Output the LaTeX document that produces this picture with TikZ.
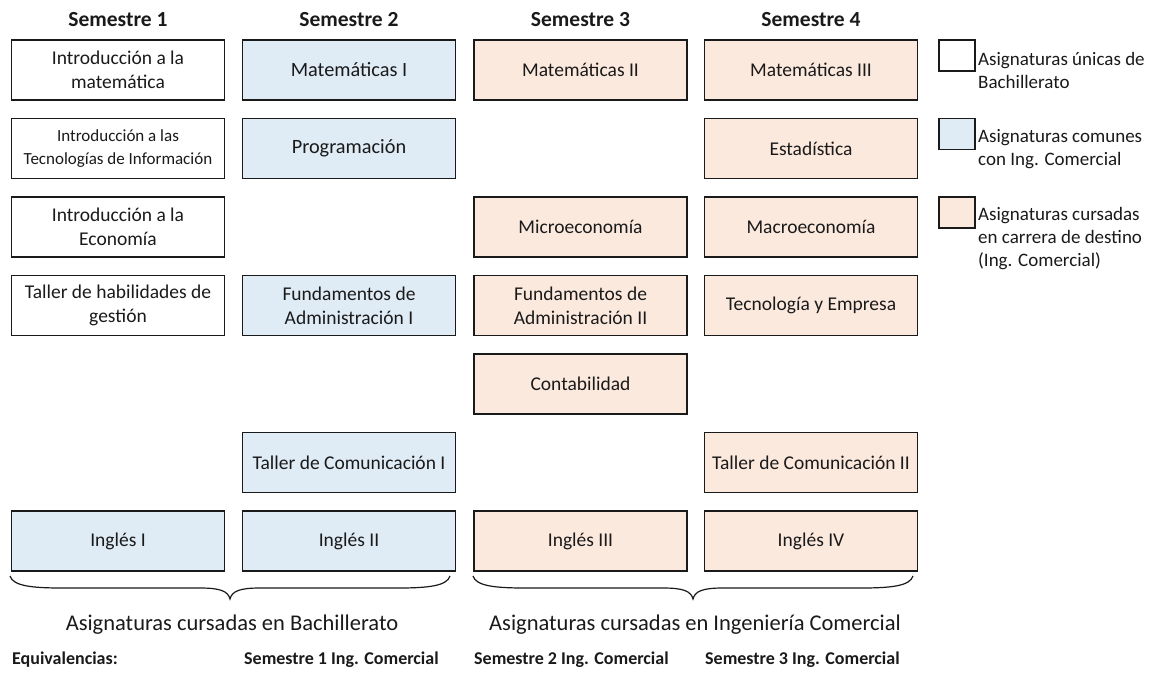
\documentclass[tikz,border=0pt]{standalone}
\usepackage{fontspec}
\setmainfont{Carlito}
\definecolor{blueF}{HTML}{DFEBF5}
\definecolor{peachF}{HTML}{FCE9DE}
\definecolor{ink}{HTML}{1A1A1A}
\tikzset{
  course/.style={draw=ink, line width=1.6pt, minimum width=213pt, minimum height=60pt,
    inner sep=0pt, align=center, text=ink, font=\fontsize{19.5}{24}\selectfont},
  bachbox/.style={course, fill=white},
  combox/.style={course, fill=blueF},
  destbox/.style={course, fill=peachF},
  bigtext/.style={font=\fontsize{20.3}{25}\selectfont},
  head/.style={font=\bfseries\fontsize{21.5}{26}\selectfont, text=ink},
  legbox/.style={draw=ink, line width=1.2pt, minimum width=36pt, minimum height=31pt, inner sep=0pt},
  legtext/.style={anchor=north west, inner sep=0pt, align=left, text=ink,
    font=\fontsize{19}{23}\selectfont},
  bracepath/.style={draw=ink, line width=1.2pt},
  biglabel/.style={anchor=base, inner sep=0pt, text=ink, font=\fontsize{22.5}{27}\selectfont},
  eqlabel/.style={anchor=base west, inner sep=0pt, text=ink, font=\bfseries\fontsize{18}{22}\selectfont}
}
\begin{document}
\begin{tikzpicture}[x=1pt,y=-1pt]
\useasboundingbox (0,0) rectangle (1150,672);
\fill[white] (0,0) rectangle (1150,672);

% headers
\node[head] (h1) at (118,20) {Semestre 1};
\node[head] (h2) at (349,20) {Semestre 2};
\node[head] (h3) at (580.5,20) {Semestre 3};
\node[head] (h4) at (811,20) {Semestre 4};

% row 1
\node[bachbox] (a1) at (118,70) {Introducción a la\\matemática};
\node[combox, bigtext]  (b1) at (349,70) {Matemáticas I};
\node[destbox] (c1) at (580.5,70) {Matemáticas II};
\node[destbox] (d1) at (811,70) {Matemáticas III};
% row 2
\node[bachbox, font=\fontsize{17}{23.5}\selectfont] (a2) at (118,148.5) {Introducción a las\\Tecnologías de Información};
\node[combox, bigtext]  (b2) at (349,148.5) {Programación};
\node[destbox] (d2) at (811,148.5) {Estadística};
% row 3
\node[bachbox] (a3) at (118,227) {Introducción a la\\Economía};
\node[destbox] (c3) at (580.5,227) {Microeconomía};
\node[destbox] (d3) at (811,227) {Macroeconomía};
% row 4
\node[bachbox] (a4) at (118,305.5) {Taller de habilidades de\\gestión};
\node[combox]  (b4) at (349,305.5) {Fundamentos de\\Administración I};
\node[destbox] (c4) at (580.5,305.5) {Fundamentos de\\Administración II};
\node[destbox] (d4) at (811,305.5) {Tecnología y Empresa};
% row 5
\node[destbox] (c5) at (580.5,384) {Contabilidad};
% row 6
\node[combox]  (b6) at (349,462.5) {Taller de Comunicación I};
\node[destbox] (d6) at (811,462.5) {Taller de Comunicación II};
% row 7
\node[combox]  (a7) at (118,541) {Inglés I};
\node[combox]  (b7) at (349,541) {Inglés II};
\node[destbox] (c7) at (580.5,541) {Inglés III};
\node[destbox] (d7) at (811,541) {Inglés IV};

% legend
\node[legbox, fill=white]  (l1) at (957,55.5) {};
\node[legbox, fill=blueF]  (l2) at (957,134) {};
\node[legbox, fill=peachF] (l3) at (957,212.5) {};
\node[legtext] (lt1) at (978,49) {\strut Asignaturas únicas de\\Bachillerato};
\node[legtext] (lt2) at (978,126.5) {\strut Asignaturas comunes\\con Ing. Comercial};
\node[legtext] (lt3) at (978,204.5) {\strut Asignaturas cursadas\\en carrera de destino\\(Ing. Comercial)};

% braces
\path[bracepath] (10,576) .. controls (13,586) and (32,588) .. (62,588) -- (200,588)
  .. controls (220,588) and (228,591) .. (230,599)
  .. controls (232,591) and (240,588) .. (260,588) -- (398,588)
  .. controls (428,588) and (447,586) .. (450,576);
\path[bracepath] (473,576) .. controls (476,586) and (495,588) .. (525,588) -- (663,588)
  .. controls (683,588) and (691,591) .. (693,599)
  .. controls (695,591) and (703,588) .. (723,588) -- (861,588)
  .. controls (891,588) and (910,586) .. (913,576);

\node[biglabel] (bl) at (232,630) {Asignaturas cursadas en Bachillerato};
\node[biglabel] (il) at (695,630) {Asignaturas cursadas en Ingeniería Comercial};

% equivalencias
\node[eqlabel] (eq) at (12,664) {Equivalencias:};
\node[eqlabel] (e1) at (244,664) {Semestre 1 Ing. Comercial};
\node[eqlabel] (e2) at (474,664) {Semestre 2 Ing. Comercial};
\node[eqlabel] (e3) at (705,664) {Semestre 3 Ing. Comercial};
\end{tikzpicture}
\end{document}
